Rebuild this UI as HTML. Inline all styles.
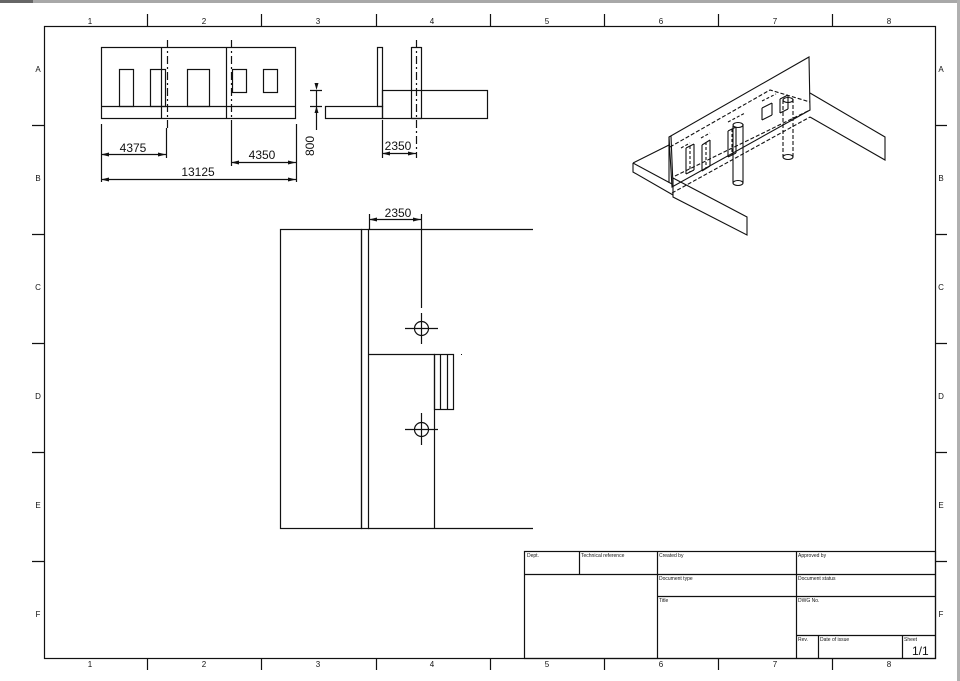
<!DOCTYPE html>
<html><head><meta charset="utf-8"><style>
html,body{margin:0;padding:0;background:#fff;}
svg{display:block;font-family:"Liberation Sans",sans-serif;}
</style></head><body>
<svg width="960" height="681" viewBox="0 0 960 681" xmlns="http://www.w3.org/2000/svg">
<rect x="0" y="0" width="960" height="3" fill="#a8a8a8"/>
<rect x="0" y="0" width="33" height="3" fill="#666"/>
<rect x="957" y="0" width="3" height="681" fill="#b0b0b0"/>
<g stroke="#111" fill="none" stroke-width="1.2">
<rect x="44.5" y="26.5" width="891" height="632"/>
<path d="M147.5 14V26M261.5 14V26M376.5 14V26M490.5 14V26M604.5 14V26M718.5 14V26M832.5 14V26"/>
<path d="M147.5 658V670M261.5 658V670M376.5 658V670M490.5 658V670M604.5 658V670M718.5 658V670M832.5 658V670"/>
<path d="M32 125.5H44M32 234.5H44M32 343.5H44M32 452.5H44M32 561.5H44"/>
<path d="M935 125.5H947M935 234.5H947M935 343.5H947M935 452.5H947M935 561.5H947"/>
</g>
<g font-size="8" fill="#111" text-anchor="middle">
<text x="90" y="24">1</text><text x="204" y="24">2</text><text x="318" y="24">3</text><text x="432" y="24">4</text><text x="547" y="24">5</text><text x="661" y="24">6</text><text x="775" y="24">7</text><text x="889" y="24">8</text>
<text x="90" y="667">1</text><text x="204" y="667">2</text><text x="318" y="667">3</text><text x="432" y="667">4</text><text x="547" y="667">5</text><text x="661" y="667">6</text><text x="775" y="667">7</text><text x="889" y="667">8</text>
<text x="38" y="72">A</text><text x="38" y="181">B</text><text x="38" y="290">C</text><text x="38" y="399">D</text><text x="38" y="508">E</text><text x="38" y="617">F</text>
<text x="941" y="72">A</text><text x="941" y="181">B</text><text x="941" y="290">C</text><text x="941" y="399">D</text><text x="941" y="508">E</text><text x="941" y="617">F</text>
</g>
<g stroke="#111" fill="none" stroke-width="1.2">
<rect x="101.5" y="47.5" width="194" height="71"/>
<path d="M101 106.5H296M161.5 47V118M226.5 47V118"/>
<rect x="119.5" y="69.5" width="14" height="37"/>
<rect x="150.5" y="69.5" width="15" height="37"/>
<rect x="187.5" y="69.5" width="22" height="37"/>
<rect x="232.5" y="69.5" width="14" height="23"/>
<rect x="263.5" y="69.5" width="14" height="23"/>
<path d="M167.5 40V128M231.5 40V128" stroke-dasharray="8,3,2,3"/>
<path d="M101.5 124V182M296.5 124V182M166.5 128V158M231.5 128V166"/>
<path d="M101 154.5H166M231 162.5H296M101 179.5H296"/>
</g>
<g fill="#111">
<path d="M101 154.5l8-2v4zM166 154.5l-8-2v4zM231 162.5l8-2v4zM296 162.5l-8-2v4zM101 179.5l8-2v4zM296 179.5l-8-2v4z"/>
</g>
<g font-size="12" fill="#111" text-anchor="middle">
<text x="133" y="152">4375</text><text x="262" y="159">4350</text><text x="198" y="176">13125</text>
<text x="398" y="150">2350</text><text x="398" y="217">2350</text>
<text transform="translate(314,146) rotate(-90)">800</text>
</g>
<g stroke="#111" fill="none" stroke-width="1.2">
<rect x="377.5" y="47.5" width="5" height="59"/>
<rect x="325.5" y="106.5" width="57" height="12"/>
<rect x="382.5" y="90.5" width="105" height="28"/>
<path d="M411.5 47V118M421.5 47V118M411.5 47.5H421.5M411.5 118.5H421.5"/>
<path d="M416.5 40V158" stroke-dasharray="8,3,2,3"/>
<path d="M382.5 120V158M316.5 90V130M310 90.5H322M310 106.5H322M382 153.5H416"/>
</g>
<g fill="#111"><path d="M316.5 90l-2-7h4zM316.5 106l-2 7h4zM382 153.5l8-2v4zM416 153.5l-8-2v4z"/></g>
<g stroke="#111" fill="none" stroke-width="1.2">
<rect x="280.5" y="229.5" width="81" height="299"/>
<rect x="361.5" y="229.5" width="7" height="299"/>
<path d="M368 229.5H533M368 528.5H533"/>
<path d="M369 354.5H434.5V528"/>
<rect x="434.5" y="354.5" width="19" height="55"/>
<path d="M440.5 354V409M447.5 354V409"/>
<circle cx="421.5" cy="328.5" r="7"/>
<circle cx="421.5" cy="429.5" r="7"/>
<path d="M405 328.5H438M421.5 313V344M405 429.5H438M421.5 413V445"/>
<path d="M421.5 214V308M369.5 214V229M369 219.5H421"/>
</g>
<g fill="#111"><path d="M369 219.5l8-2v4zM421 219.5l-8-2v4z"/><rect x="461" y="354" width="1" height="1"/></g>
<g stroke="#111" fill="none" stroke-width="1.1">
<path d="M669 137L809 57L810 110L672 187Z"/>
<path d="M669 137L669 183M671 136L673 186"/>
<path d="M633 163L669 145M633 163L633 172L673 195M633 163L672 184"/>
<path d="M673 178L747 217L747 235L673 197Z"/>
<path d="M810 93L885 137L885 160L810 117"/>
<path d="M675 176L810 110" stroke-dasharray="4,2"/>
<path d="M672 193L810 117" stroke-dasharray="4,2"/>
<path d="M670 147L770 90L810 102" stroke-dasharray="4,2"/>
<path d="M681 148L690 143M701 138L710 133M728 122L745 113M762 101L776 94" stroke-dasharray="3,2"/>
<path d="M686 148V174M694 144V170M702 145V171M710 140V166M728 131V157M736 127V153M762 108V120M772 103V115M780 99V113M788 95V109"/>
<path d="M686 148L694 144M686 174L694 170M702 145L710 140M702 171L710 166M728 131L736 127M728 157L736 153M762 108L772 103M762 120L772 115M780 99L788 95M780 113L788 109"/>
<path d="M690 146V172M706 142V168M732 129V155" stroke-dasharray="3,2"/>
<path d="M733 126V183M743 124V183"/>
<ellipse cx="738" cy="125" rx="5" ry="2.5"/>
<ellipse cx="738" cy="183" rx="5" ry="2.5"/>
<path d="M783 100V157M793 99V157" stroke-dasharray="4,2"/>
<ellipse cx="788" cy="100" rx="5" ry="2.5"/>
<ellipse cx="788" cy="157" rx="5" ry="2.5"/>
</g>
<g stroke="#111" fill="none" stroke-width="1.2">
<rect x="524.5" y="551.5" width="411" height="107"/>
<path d="M524 574.5H935M657 596.5H935M796 635.5H935M579.5 551V574M657.5 551V658M796.5 551V658M818.5 635V658M902.5 635V658"/>
</g>
<g font-size="5" fill="#111">
<text x="527" y="557">Dept.</text><text x="581" y="557">Technical reference</text><text x="659" y="557">Created by</text><text x="798" y="557">Approved by</text>
<text x="659" y="580">Document type</text><text x="798" y="580">Document status</text>
<text x="659" y="602">Title</text><text x="798" y="602">DWG No.</text>
<text x="798" y="641">Rev.</text><text x="820" y="641">Date of issue</text><text x="904" y="641">Sheet</text>
</g>
<text x="912" y="655" font-size="12" fill="#111">1/1</text>
</svg>
</body></html>
